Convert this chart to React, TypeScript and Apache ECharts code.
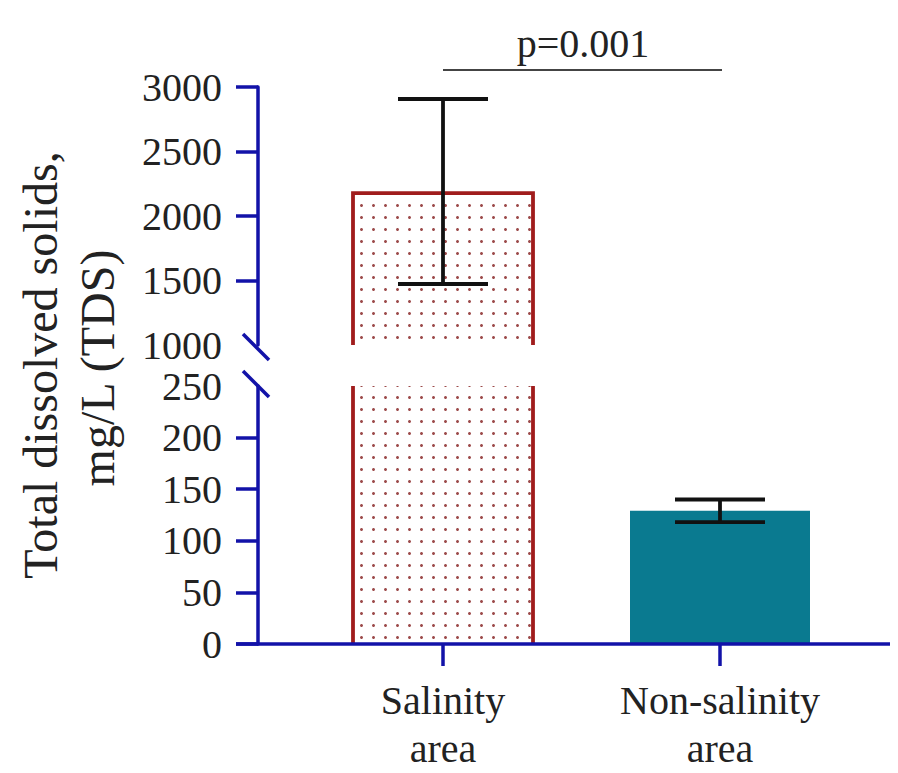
import React, { useEffect, useRef } from "react";
import * as echarts from "echarts";

const categories = ["Salinity\narea", "Non-salinity\narea"];
const means = [2178, 129];
const errLow = [1473, 118];
const errHigh = [2907, 140];
const upperLabels = [1000, 1500, 2000, 2500, 3000];
const upperTicks = [1500, 2000, 2500, 3000];
const lowerLabels = [0, 50, 100, 150, 200, 250];
const lowerTicks = [0, 50, 100, 150, 200];
const pLabel = "p=0.001";
const yTitle1 = "Total dissolved solids,";
const yTitle2 = "mg/L (TDS)";

const BLUE = "#1212a8";
const RED = "#a01c1c";
const TEAL = "#0a7a90";
const FONT = "Times New Roman, Liberation Serif, Times, serif";
const TXT = "#222222";

export default function App() {
  const ref = useRef<HTMLDivElement>(null);
  useEffect(() => {
    if (!ref.current) return;
    const chart = echarts.init(ref.current, null, { renderer: "svg" });

    const barData = means.map((v, i) =>
      i === 0
        ? {
            value: v,
            itemStyle: {
              color: "#ffffff",
              decal: {
                symbol: "circle",
                symbolSize: 1,
                color: "#9c4a4a",
                backgroundColor: "#ffffff",
                dashArrayX: [2.4, 8.9],
                dashArrayY: [2.4, 8.6],
              },
            },
          }
        : { value: v, itemStyle: { color: TEAL } }
    );
    const borderData = [[0, means[0]]];
    const errData = means.map((_, i) => [i, errLow[i], errHigh[i]]);

    const borderRender = (params: any, api: any) => {
      const cs = params.coordSys;
      const idx = api.value(0);
      const x = api.coord([idx, 0])[0];
      const yTop = api.coord([idx, api.value(1)])[1];
      const yBase = api.coord([idx, 0])[1];
      const top = Math.max(yTop, cs.y);
      const bottom = Math.min(yBase, cs.y + cs.height);
      if (top >= bottom) return null;
      const hw = 90;
      const style = { stroke: RED, lineWidth: 3.8, fill: "none" };
      if (yTop >= cs.y) {
        return {
          type: "polyline",
          shape: { points: [[x - hw, bottom], [x - hw, top], [x + hw, top], [x + hw, bottom]] },
          style,
        };
      }
      return {
        type: "group",
        children: [
          { type: "line", shape: { x1: x - hw, y1: top, x2: x - hw, y2: bottom }, style },
          { type: "line", shape: { x1: x + hw, y1: top, x2: x + hw, y2: bottom }, style },
        ],
      };
    };

    const errRender = (params: any, api: any) => {
      const cs = params.coordSys;
      const idx = api.value(0);
      const x = api.coord([idx, 0])[0];
      const yl = api.coord([idx, api.value(1)])[1];
      const yh = api.coord([idx, api.value(2)])[1];
      if (yh < cs.y - 1 || yl > cs.y + cs.height + 1) return null;
      const cap = 45;
      const style = { stroke: "#111111", lineWidth: 3.8 };
      return {
        type: "group",
        children: [
          { type: "line", shape: { x1: x, y1: yh, x2: x, y2: yl }, style },
          { type: "line", shape: { x1: x - cap, y1: yh, x2: x + cap, y2: yh }, style },
          { type: "line", shape: { x1: x - cap, y1: yl, x2: x + cap, y2: yl }, style },
        ],
      };
    };

    const yAxisCommon = {
      type: "value",
      offset: 46.5,
      splitLine: { show: false },
      axisLine: { show: true, lineStyle: { color: BLUE, width: 3.5 } },
      axisTick: { show: true, length: 22, lineStyle: { color: BLUE, width: 3.5 } },
      axisLabel: {
        margin: 36,
        fontSize: 40,
        fontFamily: FONT,
        color: TXT,
        formatter: (v: number) => String(v),
      },
    };

    const option: any = {
      animation: false,
      backgroundColor: "#ffffff",
      textStyle: { fontFamily: FONT },
      grid: [
        { left: 304.5, right: 39.5, top: 87, height: 258 },
        { left: 304.5, right: 39.5, top: 386, height: 258 },
      ],
      xAxis: [
        { type: "category", gridIndex: 0, data: categories, show: false },
        {
          type: "category",
          gridIndex: 1,
          data: categories,
          axisLine: { show: false },
          axisTick: {
            show: true,
            alignWithLabel: true,
            length: 22,
            lineStyle: { color: BLUE, width: 3.5 },
          },
          axisLabel: {
            margin: 32,
            fontSize: 40,
            lineHeight: 48,
            fontFamily: FONT,
            color: TXT,
          },
        },
      ],
      yAxis: [
        {
          ...yAxisCommon,
          gridIndex: 0,
          min: 1000,
          max: 3000,
          interval: 500,
          axisTick: { ...yAxisCommon.axisTick, customValues: upperTicks },
          axisLabel: { ...yAxisCommon.axisLabel, customValues: upperLabels },
        },
        {
          ...yAxisCommon,
          gridIndex: 1,
          min: 0,
          max: 250,
          interval: 50,
          axisTick: { ...yAxisCommon.axisTick, customValues: lowerTicks },
          axisLabel: { ...yAxisCommon.axisLabel, customValues: lowerLabels },
        },
      ],
      series: [
        { type: "bar", xAxisIndex: 0, yAxisIndex: 0, barWidth: 180, clip: true, data: barData },
        { type: "bar", xAxisIndex: 1, yAxisIndex: 1, barWidth: 180, clip: true, data: barData },
        { type: "custom", xAxisIndex: 0, yAxisIndex: 0, renderItem: borderRender, data: borderData, z: 3 },
        { type: "custom", xAxisIndex: 1, yAxisIndex: 1, renderItem: borderRender, data: borderData, z: 3 },
        { type: "custom", xAxisIndex: 0, yAxisIndex: 0, renderItem: errRender, data: errData, z: 4 },
        { type: "custom", xAxisIndex: 1, yAxisIndex: 1, renderItem: errRender, data: errData, z: 4 },
      ],
      graphic: [
        {
          type: "line",
          shape: { x1: 236, y1: 644, x2: 890, y2: 644 },
          style: { stroke: BLUE, lineWidth: 3.5 },
          z: 10,
        },
        {
          type: "line",
          shape: { x1: 243, y1: 334, x2: 269, y2: 360 },
          style: { stroke: BLUE, lineWidth: 3.5 },
          z: 10,
        },
        {
          type: "line",
          shape: { x1: 243, y1: 371, x2: 269, y2: 397 },
          style: { stroke: BLUE, lineWidth: 3.5 },
          z: 10,
        },
        {
          type: "line",
          shape: { x1: 443, y1: 70, x2: 722, y2: 70 },
          style: { stroke: "#444444", lineWidth: 2 },
        },
        {
          type: "text",
          x: 583,
          y: 43,
          style: {
            text: pLabel,
            font: "40px " + FONT,
            fill: TXT,
            align: "center",
            verticalAlign: "middle",
          },
        },
        {
          type: "text",
          x: 40,
          y: 365,
          rotation: Math.PI / 2,
          style: {
            text: yTitle1,
            font: "48px " + FONT,
            fill: TXT,
            align: "center",
            verticalAlign: "middle",
          },
        },
        {
          type: "text",
          x: 97,
          y: 368,
          rotation: Math.PI / 2,
          style: {
            text: yTitle2,
            font: "48px " + FONT,
            fill: TXT,
            align: "center",
            verticalAlign: "middle",
          },
        },
      ],
    };

    chart.setOption(option);
    return () => chart.dispose();
  }, []);

  return (
    <div
      ref={ref}
      style={{ position: "fixed", left: 0, top: 0, width: 898, height: 773, background: "#fff" }}
    />
  );
}
